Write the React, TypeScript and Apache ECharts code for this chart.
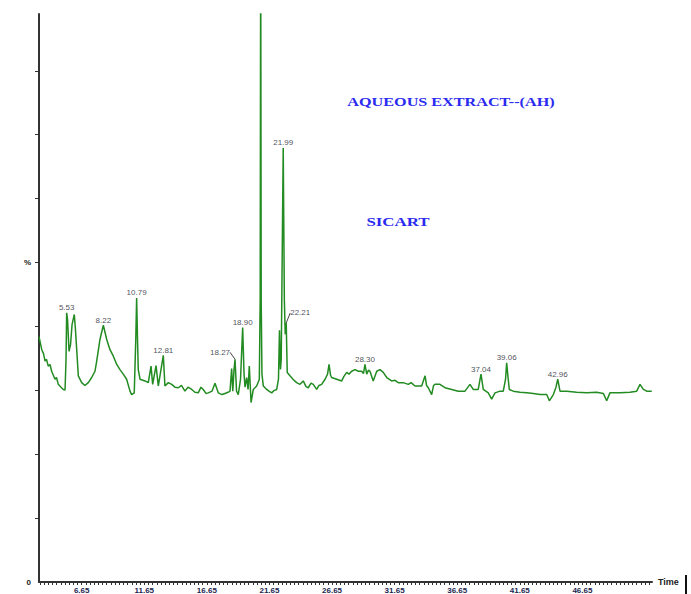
import React, { useEffect, useRef } from 'react';
import * as echarts from 'echarts';

const times = [
  3.24, 3.46, 3.60, 3.72, 3.84, 3.98, 4.12, 4.25, 4.52, 4.64,
  4.78, 5.00, 5.18, 5.32, 5.40, 5.45, 5.52, 5.64, 5.76, 5.88,
  6.06, 6.15, 6.25, 6.38, 6.65, 6.91, 7.18, 7.45, 7.71, 7.85,
  8.11, 8.38, 8.65, 8.91, 9.17, 9.45, 9.71, 9.97, 10.24, 10.51,
  10.64, 10.85, 10.97, 11.04, 11.11, 11.17, 11.31, 11.71, 11.97, 12.19,
  12.32, 12.59, 12.77, 13.17, 13.30, 13.57, 13.84, 14.10, 14.37, 14.62,
  14.90, 15.14, 15.44, 15.70, 15.96, 16.18, 16.36, 16.58, 16.76, 17.06,
  17.30, 17.56, 17.86, 18.10, 18.34, 18.50, 18.63, 18.72, 18.82, 18.90,
  19.02, 19.16, 19.34, 19.51, 19.62, 19.70, 19.83, 19.94, 20.04, 20.18,
  20.36, 20.63, 20.84, 20.91, 20.95, 20.99, 21.05, 21.16, 21.43, 21.61,
  21.83, 22.01, 22.23, 22.37, 22.45, 22.53, 22.59, 22.75, 22.84, 22.91,
  22.99, 23.07, 23.29, 23.53, 23.82, 24.09, 24.35, 24.57, 24.75, 24.97,
  25.15, 25.42, 25.61, 25.82, 26.09, 26.29, 26.41, 26.53, 26.62, 27.02,
  27.42, 27.60, 27.82, 28.00, 28.22, 28.48, 28.75, 29.02, 29.16, 29.28,
  29.42, 29.56, 29.68, 29.94, 30.22, 30.48, 30.74, 31.02, 31.41, 31.68,
  31.94, 32.34, 32.74, 32.96, 33.28, 33.81, 34.08, 34.20, 34.34, 34.61,
  34.76, 34.87, 35.27, 35.67, 36.21, 36.73, 37.27, 37.67, 37.93, 38.33,
  38.55, 38.73, 39.13, 39.40, 39.67, 40.07, 40.33, 40.51, 40.60, 40.71,
  40.81, 41.13, 41.67, 42.20, 42.73, 43.27, 43.80, 44.01, 44.33, 44.54,
  44.68, 44.86, 45.40, 46.19, 46.99, 47.79, 48.32, 48.59, 48.85, 49.65,
  50.45, 50.99, 51.25, 51.52, 51.79, 52.19,
];

const intensity = [
  43.2, 40.9, 40.2, 38.9, 39.2, 38.0, 38.3, 37.1, 35.7, 36.0,
  34.8, 34.3, 33.9, 33.8, 39.2, 47.4, 46.2, 40.6, 41.8, 45.3,
  47.1, 44.5, 41.0, 36.3, 35.1, 34.6, 35.1, 36.0, 37.1, 38.9,
  42.7, 45.2, 42.7, 40.9, 39.8, 38.3, 37.4, 36.6, 35.7, 33.6,
  33.0, 33.3, 42.7, 50.0, 42.7, 37.4, 35.7, 35.4, 35.1, 38.0,
  34.8, 38.1, 34.5, 39.9, 34.5, 35.1, 34.8, 34.3, 34.2, 34.6,
  33.6, 34.3, 33.9, 33.4, 33.3, 34.3, 33.9, 33.2, 33.3, 33.6,
  35.0, 33.3, 33.0, 33.2, 33.4, 33.6, 37.6, 33.6, 37.4, 39.2,
  33.6, 33.0, 35.7, 44.8, 36.6, 34.3, 36.0, 33.9, 38.0, 31.6,
  33.9, 34.5, 35.7, 49.7, 115, 49.7, 36.6, 34.5, 33.9, 33.6,
  33.3, 33.7, 33.9, 35.7, 44.3, 37.4, 39.2, 76.4, 49.7, 43.6,
  45.6, 36.9, 36.3, 35.7, 35.1, 34.8, 35.4, 34.4, 34.2, 35.0,
  34.8, 33.9, 34.6, 34.8, 35.7, 36.6, 38.3, 36.4, 36.0, 35.7,
  35.4, 36.2, 36.9, 36.6, 37.1, 37.4, 37.1, 37.1, 36.7, 38.3,
  36.6, 37.3, 37.1, 35.4, 37.1, 37.4, 36.9, 36.0, 35.4, 35.5,
  35.1, 35.1, 34.8, 35.1, 34.5, 34.5, 36.3, 34.6, 34.2, 33.0,
  34.6, 34.8, 34.8, 34.2, 33.9, 33.6, 33.6, 34.8, 33.9, 33.9,
  36.6, 33.9, 33.3, 32.2, 33.3, 33.6, 33.6, 35.7, 38.6, 36.0,
  33.9, 33.6, 33.4, 33.3, 33.2, 33.0, 33.0, 31.9, 33.0, 34.3,
  35.7, 33.6, 33.6, 33.4, 33.3, 33.4, 33.2, 31.9, 33.3, 33.3,
  33.4, 33.6, 34.8, 33.9, 33.6, 33.6,
];

const peakLabels = ['5.53', '8.22', '10.79', '12.81', '18.27', '18.90', '21.99', '22.21', '28.30', '37.04', '39.06', '42.96'];
const peakTimes = [5.45, 8.38, 11.04, 13.17, 18.90, 19.51, 22.75, 22.99, 29.28, 38.55, 40.60, 44.68];
const peakHeights = [47.4, 45.2, 50.0, 39.9, 39.2, 44.8, 76.4, 45.6, 38.3, 36.6, 38.6, 35.7];

const xTickLabels = [6.65, 11.65, 16.65, 21.65, 26.65, 31.65, 36.65, 41.65, 46.65];
const yTickValues = [11.25, 22.5, 33.75, 45, 56.25, 67.5, 78.75, 90];
const yLabelValues = [0, 56.25];

const titleText = 'AQUEOUS EXTRACT--(AH)';
const subtitleText = 'SICART';
const xAxisName = 'Time';

export default function App() {
  const ref = useRef<HTMLDivElement>(null);

  useEffect(() => {
    if (!ref.current) return;
    const chart = echarts.init(ref.current, null, { renderer: 'svg' });

    const minorTicks: number[] = [];
    for (let k = -10; k <= 136; k++) minorTicks.push(+(6.65 + k / 3).toFixed(4));

    const lineData = times.map((t, i) => [t, intensity[i]]);
    const leaderIdx = [4, 7];
    const leaderOffsets: Record<number, [number, number]> = { 4: [-15, -2], 7: [14, -5] };

    const labelStyle = {
      fontSize: 8,
      color: '#1a1a2e',
      fontFamily: 'Liberation Sans, Arial, sans-serif',
    };

    const plainPeaks = peakLabels
      .map((l, i) => ({ name: l, value: [peakTimes[i], peakHeights[i]], idx: i }))
      .filter((d) => leaderIdx.indexOf(d.idx) < 0)
      .map((d) => ({ name: d.name, value: d.value }));

    const leaderSeries = leaderIdx.map((i) => ({
      type: 'scatter',
      symbol: 'circle',
      symbolSize: 0.1,
      itemStyle: { color: 'rgba(0,0,0,0)' },
      silent: true,
      z: 5,
      data: [{ name: peakLabels[i], value: [peakTimes[i], peakHeights[i]] }],
      label: { show: true, position: 'top', distance: 1, formatter: '{b}', ...labelStyle },
      labelLayout: { dx: leaderOffsets[i][0], dy: leaderOffsets[i][1] },
      labelLine: { show: true, lineStyle: { color: '#333', width: 0.9 } },
    }));

    chart.setOption({
      animation: false,
      backgroundColor: '#ffffff',
      grid: { left: 39, right: 39, top: 14, bottom: 11, containLabel: false },
      xAxis: {
        type: 'value',
        min: 3.24,
        max: 52.21,
        name: xAxisName,
        nameLocation: 'end',
        nameGap: 6,
        nameTextStyle: {
          fontSize: 9,
          color: '#222',
          fontWeight: 'bold',
          fontFamily: 'Liberation Sans, Arial, sans-serif',
          padding: [0, 0, 6, 0],
        },
        axisLine: { show: true, lineStyle: { color: '#333', width: 2 } },
        axisTick: { show: true, customValues: minorTicks, length: 3, lineStyle: { color: '#333', width: 1 } },
        axisLabel: {
          customValues: xTickLabels,
          formatter: (v: number) => v.toFixed(2),
          fontSize: 8,
          fontWeight: 'bold',
          color: '#1c2550',
          fontFamily: 'Liberation Sans, Arial, sans-serif',
          margin: 4,
        },
        splitLine: { show: false },
      },
      yAxis: {
        type: 'value',
        min: 0,
        max: 100,
        axisLine: { show: true, lineStyle: { color: '#333', width: 2 } },
        axisTick: { show: true, customValues: yTickValues, length: 4, lineStyle: { color: '#333', width: 1 } },
        axisLabel: {
          customValues: yLabelValues,
          formatter: (v: number) => (v === 0 ? '0' : '%'),
          fontSize: 8,
          fontWeight: 'bold',
          color: '#222',
          fontFamily: 'Liberation Sans, Arial, sans-serif',
          margin: 8,
        },
        splitLine: { show: false },
      },
      series: [
        {
          type: 'line',
          data: lineData,
          showSymbol: false,
          symbol: 'none',
          clip: true,
          lineStyle: { color: '#228B22', width: 1.5 },
          z: 2,
        },
        {
          type: 'scatter',
          symbol: 'circle',
          symbolSize: 0.1,
          itemStyle: { color: 'rgba(0,0,0,0)' },
          silent: true,
          z: 5,
          data: plainPeaks,
          label: { show: true, position: 'top', distance: 1, formatter: '{b}', ...labelStyle },
        },
        ...leaderSeries,
      ],
      graphic: [
        {
          type: 'text',
          x: 451,
          y: 102,
          scaleX: 1.245,
          style: {
            text: titleText,
            fill: '#2a2af0',
            font: 'bold 13px "Liberation Serif", "Times New Roman", serif',
            textAlign: 'center',
            textVerticalAlign: 'middle',
          },
        },
        {
          type: 'text',
          x: 398,
          y: 222,
          scaleX: 1.3,
          style: {
            text: subtitleText,
            fill: '#2a2af0',
            font: 'bold 13px "Liberation Serif", "Times New Roman", serif',
            textAlign: 'center',
            textVerticalAlign: 'middle',
          },
        },
        {
          type: 'rect',
          shape: { x: 685, y: 575, width: 2, height: 19 },
          style: { fill: '#111' },
        },
      ],
    });

    return () => chart.dispose();
  }, []);

  return (
    <div
      ref={ref}
      style={{ position: 'fixed', left: 0, top: 0, width: 691, height: 594, background: '#fff' }}
    />
  );
}
